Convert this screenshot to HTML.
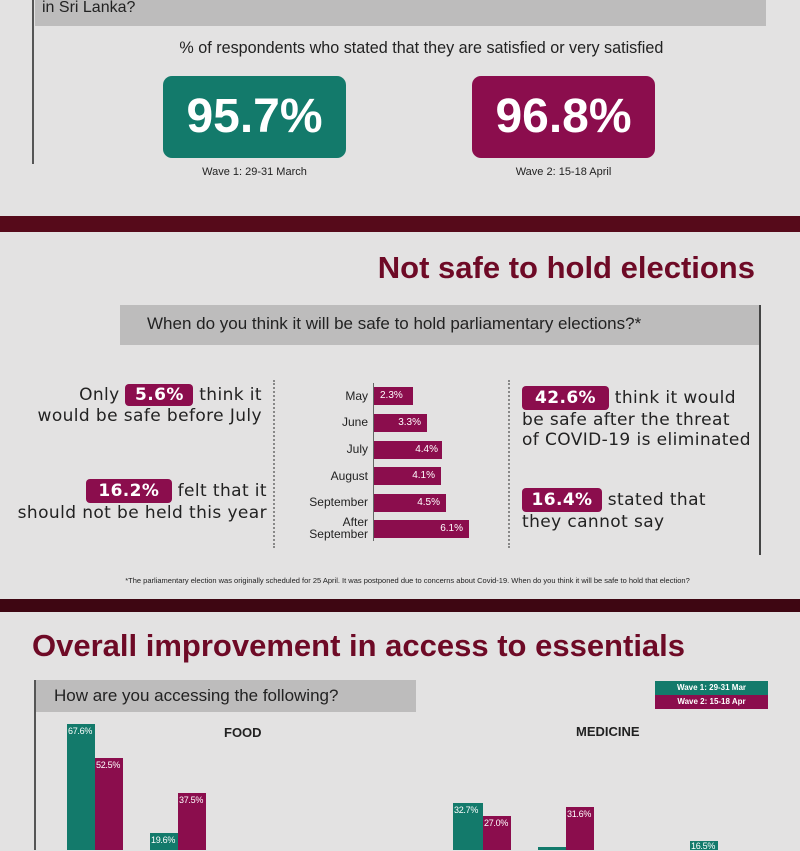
<!DOCTYPE html>
<html><head><meta charset="utf-8"><style>
*{margin:0;padding:0;box-sizing:border-box}
body{width:800px;height:850px;background:#e3e2e2;position:relative;overflow:hidden;font-family:"Liberation Sans",sans-serif;color:#222}
.a{position:absolute}
.t{background:#137a6b}.m{background:#8b0d4d}
.pill{display:inline-block;color:#fff;font-weight:bold;border-radius:4px;text-align:center}
.bar{position:absolute;color:#fff;font-size:10px}
.lab{position:absolute;font-size:12px;text-align:right;width:90px;left:278px;line-height:12px}
.vb{position:absolute;color:#fff;font-size:9px;padding:2px 1px;letter-spacing:-0.3px}
.dots{position:absolute;border-left:2px dotted #888;width:0}
.big{font-size:17px;letter-spacing:0.4px;line-height:20px;font-family:"DejaVu Sans",sans-serif;position:absolute}
</style></head><body>
<div class="a" style="left:35px;top:0;width:731px;height:26px;background:#bdbcbc"></div>
<div class="a" style="left:42px;top:0;font-size:16px;line-height:16px">in Sri Lanka?</div>
<div class="a" style="left:32px;top:0;width:2px;height:164px;background:#555"></div>
<div class="a" style="left:0;top:38px;width:800px;text-align:center;font-size:17px;padding-left:45px;transform:scaleX(.95)">% of respondents who stated that they are satisfied or very satisfied</div>
<div class="a t" style="left:163px;top:76px;width:183px;height:82px;border-radius:9px;color:#fff;font-size:48px;font-weight:bold;text-align:center;line-height:82px">95.7%</div>
<div class="a m" style="left:472px;top:76px;width:183px;height:82px;border-radius:9px;color:#fff;font-size:48px;font-weight:bold;text-align:center;line-height:82px">96.8%</div>
<div class="a" style="left:163px;top:166px;width:183px;text-align:center;font-size:11px">Wave 1: 29-31 March</div>
<div class="a" style="left:472px;top:166px;width:183px;text-align:center;font-size:11px">Wave 2: 15-18 April</div>
<div class="a" style="left:0;top:216px;width:800px;height:16px;background:#560a1a"></div>

<div class="a" style="right:45px;top:250px;font-size:31px;font-weight:bold;color:#6e0a26;letter-spacing:0">Not safe to hold elections</div>
<div class="a" style="left:120px;top:305px;width:640px;height:40px;background:#bdbcbc"></div>
<div class="a" style="left:147px;top:314px;font-size:17px">When do you think it will be safe to hold parliamentary elections?*</div>
<div class="a" style="left:759px;top:305px;width:2px;height:250px;background:#444"></div>
<div class="dots" style="left:273px;top:380px;height:168px"></div>
<div class="dots" style="left:508px;top:380px;height:168px"></div>

<div class="big" style="right:538px;top:384px;text-align:right;white-space:nowrap">Only <span class="pill m" style="width:68px;font-size:17px;line-height:22px">5.6%</span> think it<br>would be safe before July</div>
<div class="big" style="right:533px;top:479px;text-align:right;white-space:nowrap"><span class="pill m" style="width:86px;font-size:17px;line-height:24px">16.2%</span> felt that it<br>should not be held this year</div>
<div class="big" style="left:522px;top:386px;white-space:nowrap"><span class="pill m" style="width:87px;font-size:17px;line-height:24px">42.6%</span> think it would<br>be safe after the threat<br>of COVID-19 is eliminated</div>
<div class="big" style="left:522px;top:488px;white-space:nowrap"><span class="pill m" style="width:80px;font-size:17px;line-height:24px">16.4%</span> stated that<br>they cannot say</div>

<div class="a" style="left:373px;top:383px;width:1px;height:158px;background:#666"></div>
<div class="lab" style="top:390px">May</div><div class="bar m" style="left:374px;top:387px;width:39px;height:18px;line-height:18px;padding-left:6px">2.3%</div>
<div class="lab" style="top:416px">June</div><div class="bar m" style="left:374px;top:414px;width:53px;height:18px;line-height:18px;text-align:right;padding-right:6px">3.3%</div>
<div class="lab" style="top:443px">July</div><div class="bar m" style="left:374px;top:441px;width:68px;height:18px;line-height:18px;text-align:right;padding-right:4px">4.4%</div>
<div class="lab" style="top:470px">August</div><div class="bar m" style="left:374px;top:467px;width:67px;height:18px;line-height:18px;text-align:right;padding-right:6px">4.1%</div>
<div class="lab" style="top:496px">September</div><div class="bar m" style="left:374px;top:494px;width:72px;height:18px;line-height:18px;text-align:right;padding-right:6px">4.5%</div>
<div class="lab" style="top:516px">After<br>September</div><div class="bar m" style="left:374px;top:520px;width:95px;height:18px;line-height:18px;text-align:right;padding-right:6px">6.1%</div>

<div class="a" style="left:0;top:576px;width:800px;text-align:center;font-size:7.5px;padding-left:15px">*The parliamentary election was originally scheduled for 25 April. It was postponed due to concerns about Covid-19. When do you think it will be safe to hold that election?</div>
<div class="a" style="left:0;top:599px;width:800px;height:13px;background:#3e0612"></div>

<div class="a" style="left:32px;top:628px;font-size:31px;font-weight:bold;color:#6e0a26;letter-spacing:0">Overall improvement in access to essentials</div>
<div class="a" style="left:35px;top:680px;width:381px;height:32px;background:#bdbcbc"></div>
<div class="a" style="left:54px;top:686px;font-size:17px">How are you accessing the following?</div>
<div class="a" style="left:34px;top:680px;width:2px;height:170px;background:#555"></div>
<div class="a t" style="left:655px;top:681px;width:113px;height:14px;color:#fff;font-size:8px;font-weight:bold;text-align:center;line-height:14px">Wave 1: 29-31 Mar</div>
<div class="a m" style="left:655px;top:695px;width:113px;height:14px;color:#fff;font-size:8px;font-weight:bold;text-align:center;line-height:14px">Wave 2: 15-18 Apr</div>
<div class="a" style="left:224px;top:725px;font-size:13px;font-weight:bold">FOOD</div>
<div class="a" style="left:576px;top:724px;font-size:13px;font-weight:bold">MEDICINE</div>
<div class="vb t" style="left:67px;top:724px;width:28px;height:126px">67.6%</div>
<div class="vb m" style="left:95px;top:758px;width:28px;height:92px">52.5%</div>
<div class="vb t" style="left:150px;top:833px;width:28px;height:17px">19.6%</div>
<div class="vb m" style="left:178px;top:793px;width:28px;height:57px">37.5%</div>
<div class="vb t" style="left:453px;top:803px;width:30px;height:47px">32.7%</div>
<div class="vb m" style="left:483px;top:816px;width:28px;height:34px">27.0%</div>
<div class="vb t" style="left:538px;top:847px;width:28px;height:3px;padding:0"></div>
<div class="vb m" style="left:566px;top:807px;width:28px;height:43px">31.6%</div>
<div class="vb t" style="left:690px;top:841px;width:28px;height:9px;padding:0 1px">16.5%</div>
</body></html>
